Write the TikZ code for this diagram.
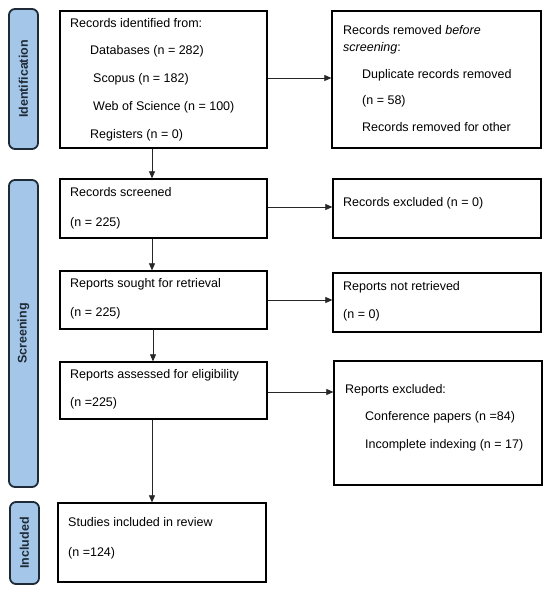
\documentclass[tikz,border=0pt]{standalone}
\usepackage{fontspec}
\setmainfont{Liberation Sans}
\usetikzlibrary{arrows.meta,calc}
\definecolor{barfill}{HTML}{A4C6E8}
\definecolor{barline}{HTML}{1E2A36}
\begin{document}
\begin{tikzpicture}[x=1pt,y=-1pt,
  box/.style={draw=black,line width=1.3pt,inner sep=0pt},
  bar/.style={draw=barline,fill=barfill,line width=1.8pt,rounded corners=6pt,inner sep=0pt},
  barlabel/.style={rotate=90,inner sep=0pt,font=\fontsize{12.5}{15}\selectfont\bfseries,text=barline},
  txt/.style={anchor=west,inner sep=0pt,align=left},
  arr/.style={line width=0.7pt,draw=black!85,-{Triangle[length=7pt,width=6pt]}}]
\useasboundingbox (0,0) rectangle (550,593);

% phase bars
\node[bar,minimum width=29pt,minimum height=140pt] (pid) at (23.5,79) {};
\node[bar,minimum width=29pt,minimum height=307pt] (psc) at (23.5,333.5) {};
\node[bar,minimum width=29pt,minimum height=82pt] (pin) at (24.5,543) {};
\node[barlabel] (lid) at (pid.center) {Identification};
\node[barlabel] (lsc) at (psc.center) {Screening};
\node[barlabel] (lin) at (pin.center) {Included};

% left column boxes
\node[box,minimum width=207pt,minimum height=137pt] (b1) at (163.5,79.5) {};
\node[box,minimum width=207pt,minimum height=59pt] (b2) at (163.5,208.5) {};
\node[box,minimum width=207pt,minimum height=58pt] (b3) at (163.5,300) {};
\node[box,minimum width=207pt,minimum height=57pt] (b4) at (163.5,390.5) {};
\node[box,minimum width=208pt,minimum height=79pt] (b5) at (162,542.5) {};

% right column boxes
\node[box,minimum width=209pt,minimum height=137pt] (r1) at (436.5,79.5) {};
\node[box,minimum width=208pt,minimum height=59pt] (r2) at (437,208.5) {};
\node[box,minimum width=208pt,minimum height=59pt] (r3) at (437,302.5) {};
\node[box,minimum width=208pt,minimum height=124pt] (r4) at (438,423) {};

% texts
\node[txt,font=\fontsize{12.5}{27.75}\selectfont] (t1) at (70,79.5) {Records identified from:\\
\hspace*{20pt}Databases (n = 282)\\
\hspace*{23pt}Scopus (n = 182)\\
\hspace*{23pt}Web of Science (n = 100)\\
\hspace*{20pt}Registers (n = 0)};
\node[txt,font=\fontsize{12.5}{30}\selectfont] (t2) at (70,208) {Records screened\\(n = 225)};
\node[txt,font=\fontsize{12.5}{29}\selectfont] (t3) at (70,298.5) {Reports sought for retrieval\\(n = 225)};
\node[txt,font=\fontsize{12.5}{28}\selectfont] (t4) at (70,389) {Reports assessed for eligibility\\(n =225)};
\node[txt,font=\fontsize{12.5}{30}\selectfont] (t5) at (68,538) {Studies included in review\\(n =124)};

\node[txt,font=\fontsize{12.5}{17}\selectfont] (s1) at (343,78.5) {Records removed \textit{before}\\
\textit{screening}:\\[10pt]
\hspace*{19pt}Duplicate records removed\\[9pt]
\hspace*{19pt}(n = 58)\\[10pt]
\hspace*{19pt}Records removed for other};
\node[txt,font=\fontsize{12.5}{15}\selectfont] (s2) at (343,203) {Records excluded (n = 0)};
\node[txt,font=\fontsize{12.5}{28}\selectfont] (s3) at (343,301) {Reports not retrieved\\(n = 0)};
\node[txt,font=\fontsize{12.5}{27.5}\selectfont] (s4) at (345,417.5) {Reports excluded:\\
\hspace*{20pt}Conference papers (n =84)\\
\hspace*{20pt}Incomplete indexing (n = 17)};

% connectors
\coordinate (ax) at (152,0);
\draw[arr] (b1.south -| ax) -- (b2.north -| ax);
\draw[arr] (b2.south -| ax) -- (b3.north -| ax);
\coordinate (ax2) at (153,0);
\draw[arr] (b3.south -| ax2) -- (b4.north -| ax2);
\draw[arr] (b4.south -| ax) -- (b5.north -| ax);

\coordinate (h1) at (0,78);
\coordinate (h2) at (0,207);
\coordinate (h3) at (0,300);
\coordinate (h4) at (0,392);
\draw[arr] (b1.east |- h1) -- (r1.west |- h1);
\draw[arr] (b2.east |- h2) -- (r2.west |- h2);
\draw[arr] (b3.east |- h3) -- (r3.west |- h3);
\draw[arr] (b4.east |- h4) -- (r4.west |- h4);
\end{tikzpicture}
\end{document}
